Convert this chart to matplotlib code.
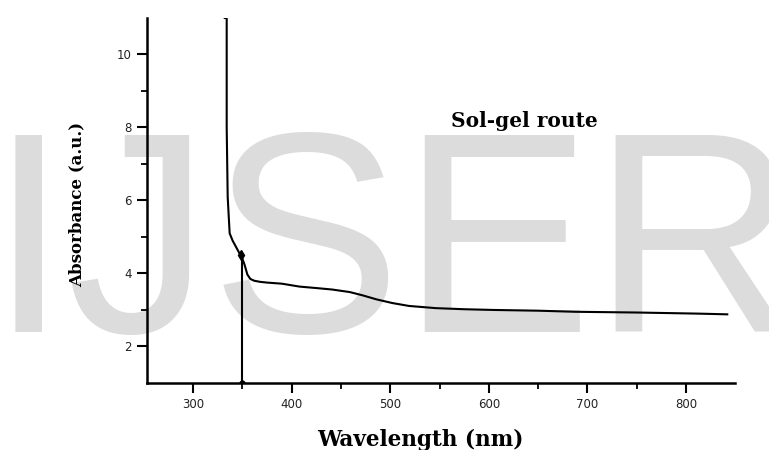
import matplotlib.pyplot as plt
import numpy as np

# absorbance spectrum
wavelength = [332, 334, 334, 335, 337, 340, 344, 347, 349, 352, 355, 358, 362, 368,
              375, 390, 408, 425, 441, 459, 472, 486, 502, 519, 546, 575, 605,
              650, 688, 750, 812, 842]
absorbance = [11.0, 11.0, 8.0, 6.1, 5.1, 4.9, 4.7, 4.55, 4.47, 4.25, 3.97, 3.85,
              3.8, 3.77, 3.75, 3.72, 3.64, 3.6, 3.56, 3.49, 3.4, 3.29, 3.19, 3.11,
              3.05, 3.02, 3.0, 2.98, 2.95, 2.93, 2.9, 2.88]

# band edge marker
edge_x = [350, 350]
edge_y = [1.0, 4.5]

xticks = [300, 400, 500, 600, 700, 800]
yticks = [2, 4, 6, 8, 10]

fig = plt.figure(figsize=(7.69, 4.5), dpi=100)

# watermark behind everything
fig.text(0.512, 0.262, "IJSER", fontsize=206, color="#dcdcdc",
         family="Liberation Sans", ha="center", va="baseline", zorder=0)

ax = fig.add_axes([0.191, 0.149, 0.765, 0.811])
ax.set_zorder(2)
ax.patch.set_alpha(0)

ax.plot(wavelength, absorbance, color="black", lw=1.5, zorder=3)
ax.plot(edge_x, edge_y, color="black", lw=1.5, zorder=3)
ax.plot([349], [4.5], marker="d", ms=5, color="black", zorder=4)
ax.plot([350], [1.0], marker="o", ms=3.5, color="black", zorder=4)

ax.set_xlim(253, 850)
ax.set_ylim(1, 11)
ax.set_xticks(xticks)
ax.set_yticks(yticks)
ax.set_xticks([350, 450, 550, 650, 750], minor=True)
ax.set_yticks([3, 5, 7, 9], minor=True)

for s in ["top", "right"]:
    ax.spines[s].set_visible(False)
for s in ["left", "bottom"]:
    ax.spines[s].set_linewidth(1.8)

ax.tick_params(which="major", direction="out", length=7, width=1.5, labelsize=8.5,
               pad=4, labelcolor="#222222")
ax.tick_params(which="minor", direction="out", length=4, width=1.3)
for lab in ax.get_xticklabels() + ax.get_yticklabels():
    lab.set_family("DejaVu Sans")

ax.set_xlabel("Wavelength (nm)", family="DejaVu Serif", fontweight="bold",
              fontsize=15.5)
ax.set_ylabel("Absorbance (a.u.)", family="DejaVu Serif", fontweight="bold",
              fontsize=12)
ax.xaxis.set_label_coords(0.464, -0.126)
ax.yaxis.set_label_coords(-0.104, 0.49)

ax.text(636, 8.19, "Sol-gel route", family="DejaVu Serif", fontweight="bold",
        fontsize=14.5, ha="center", va="center")

fig.savefig("out.png", dpi=100)
